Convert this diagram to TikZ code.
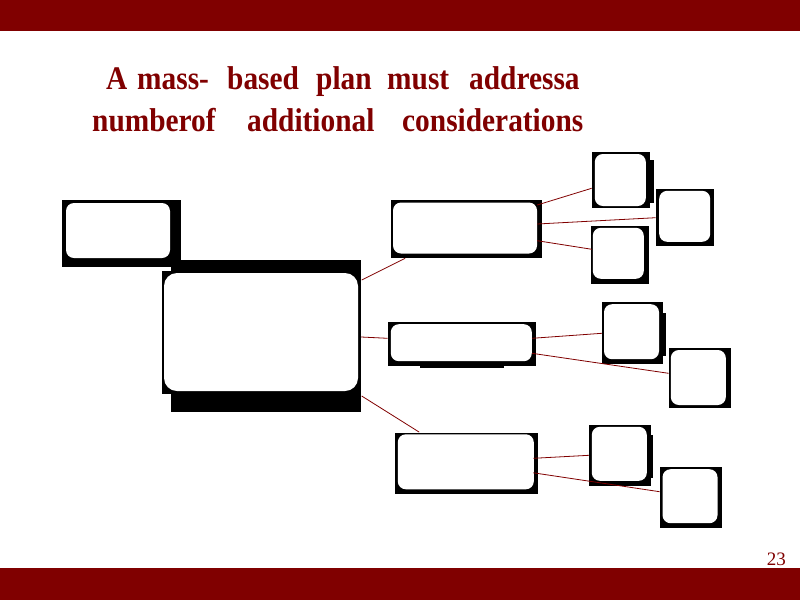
\documentclass[tikz,border=0pt]{standalone}
\usepackage{fontspec}
\setmainfont{Liberation Serif}
\newfontfamily\titlefont[FakeStretch=0.89]{Liberation Serif}
\usetikzlibrary{calc}
\definecolor{maroon}{HTML}{800000}
\tikzset{
  shadowbox/.style={fill=black, draw=none},
  whitebox/.style={fill=white, draw=none, rounded corners=8pt, inner sep=0pt},
  bigbox/.style={whitebox, rounded corners=13pt},
  link/.style={draw=maroon, line width=0.8pt},
  titleword/.style={anchor=base west, inner sep=0pt, text=maroon, font=\titlefont\bfseries\fontsize{33}{38}\selectfont},
  pagenum/.style={anchor=base east, inner sep=0pt, text=maroon, font=\fontsize{19}{22}\selectfont}
}
\begin{document}
\begin{tikzpicture}[x=1pt,y=-1pt]
\useasboundingbox (0,0) rectangle (800,600);
% bars
\fill[maroon] (0,0) rectangle (800,31);
\fill[maroon] (0,568) rectangle (800,600);
% title
\node[titleword] (t1) at (106,89) {A};
\node[titleword] (t2) at (137,89) {mass-};
\node[titleword] (t3) at (227,89) {based};
\node[titleword] (t4) at (316,89) {plan};
\node[titleword] (t5) at (387,89) {must};
\node[titleword] (t6) at (469,89) {addressa};
\node[titleword] (t7) at (92,131) {numberof};
\node[titleword] (t8) at (247,131) {additional};
\node[titleword] (t9) at (402,131) {considerations};
% black backgrounds
\fill[shadowbox] (62,200) rectangle (181,267);
\fill[shadowbox] (162,271) rectangle (358,394);
\fill[shadowbox] (171,260) rectangle (361,412);
\fill[shadowbox] (391,200) rectangle (542,258);
\fill[shadowbox] (592,152) rectangle (650,208);
\fill[shadowbox] (592,160) rectangle (654,203);
\fill[shadowbox] (656,189) rectangle (714,246);
\fill[shadowbox] (591,226) rectangle (649,284);
\fill[shadowbox] (388,322) rectangle (536,366);
\fill[shadowbox] (420,322) rectangle (504,368);
\fill[shadowbox] (602,302) rectangle (663,364);
\fill[shadowbox] (602,313) rectangle (666,356);
\fill[shadowbox] (669,348) rectangle (731,408);
\fill[shadowbox] (395,433) rectangle (538,494);
\fill[shadowbox] (589,425) rectangle (651,486);
\fill[shadowbox] (589,435) rectangle (653,478);
\fill[shadowbox] (660,467) rectangle (722,528);
% white boxes
\node[whitebox, minimum width=104pt, minimum height=55pt] (A) at (118,230.5) {};
\node[bigbox, minimum width=194pt, minimum height=118pt] (main) at (261,332) {};
\node[whitebox, minimum width=144pt, minimum height=51pt] (B) at (465,228) {};
\node[whitebox, minimum width=51pt, minimum height=52pt] (B1) at (620.3,180) {};
\node[whitebox, minimum width=51pt, minimum height=51pt] (B2) at (684.7,216.3) {};
\node[whitebox, minimum width=51pt, minimum height=51pt] (B3) at (618.3,253.3) {};
\node[whitebox, minimum width=141pt, minimum height=37pt] (C) at (461.3,342.7) {};
\node[whitebox, minimum width=55pt, minimum height=55pt] (C1) at (631.5,331.7) {};
\node[whitebox, minimum width=55pt, minimum height=55pt] (C2) at (698.3,377.5) {};
\node[whitebox, minimum width=136pt, minimum height=55pt] (D) at (465.8,461.8) {};
\node[whitebox, minimum width=55pt, minimum height=54pt] (D1) at (619.3,453.8) {};
\node[whitebox, minimum width=55pt, minimum height=54pt] (D2) at (690,496.2) {};
% connectors
\draw[link] ($(main.east)+(3.5,-52)$) -- ($(B.south west)+(12.3,4.6)$);
\draw[link] ($(main.east)+(3,5)$) -- ($(C.west)+(-3,-4.4)$);
\draw[link] ($(main.east)+(3.5,64)$) -- ($(D.north west)+(21.6,-2)$);
\draw[link] ($(B.east)+(0,-23)$) -- ($(B1.west)+(-3,8.3)$);
\draw[link] ($(B.east)+(0,-4)$) -- ($(B2.west)+(-3.3,1.4)$);
\draw[link] ($(B.east)+(0,12.7)$) -- ($(B3.west)+(-0.7,-4)$);
\draw[link] ($(C.east)+(0,-4.4)$) -- ($(C1.west)+(-2,1.6)$);
\draw[link] ($(C.east)+(0,10.6)$) -- ($(C2.west)+(-2,-4.2)$);
\draw[link] ($(D.east)+(-0.7,-3.5)$) -- ($(D1.west)+(-2.7,1.5)$);
\draw[link] ($(D.east)+(-0.7,11)$) -- ($(D2.west)+(-2.7,-4.5)$);
% page number
\node[pagenum] (pg) at (786,565) {23};
\end{tikzpicture}
\end{document}
